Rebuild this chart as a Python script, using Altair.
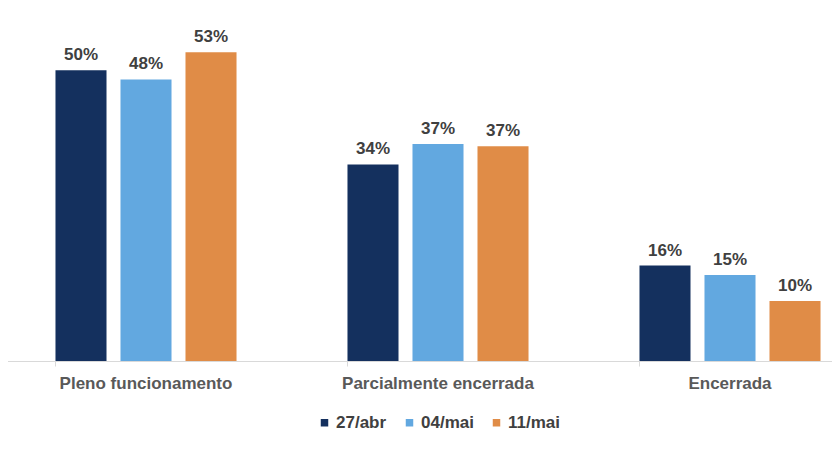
import altair as alt
import pandas as pd

categories = ["Pleno funcionamento", "Parcialmente encerrada", "Encerrada"]
series = ["27/abr", "04/mai", "11/mai"]
colors = ["#14305E", "#62A8E0", "#E08C47"]
values = {
    "27/abr": [50.0, 33.8, 16.4],
    "04/mai": [48.4, 37.3, 14.8],
    "11/mai": [53.1, 36.9, 10.3],
}

rows = []
for s in series:
    for c, v in zip(categories, values[s]):
        rows.append({"cat": c, "serie": s, "value": v})
df = pd.DataFrame(rows)

FONT = "Liberation Sans"

base = alt.Chart(df).encode(
    x=alt.X(
        "cat:N",
        sort=categories,
        title=None,
        scale=alt.Scale(paddingInner=0.38, paddingOuter=0.19),
        axis=alt.Axis(
            labelAngle=0,
            labelFont=FONT,
            labelFontSize=17,
            labelFontWeight="bold",
            labelColor="#595959",
            labelPadding=9,
            labelLimit=400,
            domainColor="#D9D9D9",
            tickColor="#D9D9D9",
            tickSize=5,
            bandPosition=0,
            grid=False,
        ),
    ),
    xOffset=alt.XOffset(
        "serie:N", sort=series, scale=alt.Scale(paddingInner=0.215, paddingOuter=0)
    ),
    y=alt.Y("value:Q", scale=alt.Scale(domain=[0, 60]), axis=None),
)

bars = base.mark_bar().encode(
    color=alt.Color(
        "serie:N",
        sort=series,
        scale=alt.Scale(domain=series, range=colors),
        legend=alt.Legend(
            title=None,
            orient="none",
            direction="horizontal",
            legendX=316,
            legendY=402,
            symbolType="square",
            symbolSize=56,
            symbolStrokeWidth=0,
            labelFont=FONT,
            labelFontSize=17,
            labelFontWeight="bold",
            labelColor="#404040",
            labelOffset=3,
            columnPadding=14,
        ),
    )
)

labels = base.transform_calculate(
    lbl="format(datum.value, '.0f') + '%'"
).mark_text(
    baseline="bottom",
    dy=-6,
    font=FONT,
    fontSize=17,
    fontWeight="bold",
    color="#404040",
).encode(text="lbl:N")

chart = (
    alt.layer(bars, labels)
    .properties(
        width=876,
        height=349,
        background="white",
        autosize=alt.AutoSizeParams(type="none"),
        padding={"left": -8, "top": 4, "right": -44, "bottom": 96},
    )
    .configure_view(strokeWidth=0, stroke="transparent")
)

chart.save("out.html", embed_options={"renderer": "svg", "actions": False})
